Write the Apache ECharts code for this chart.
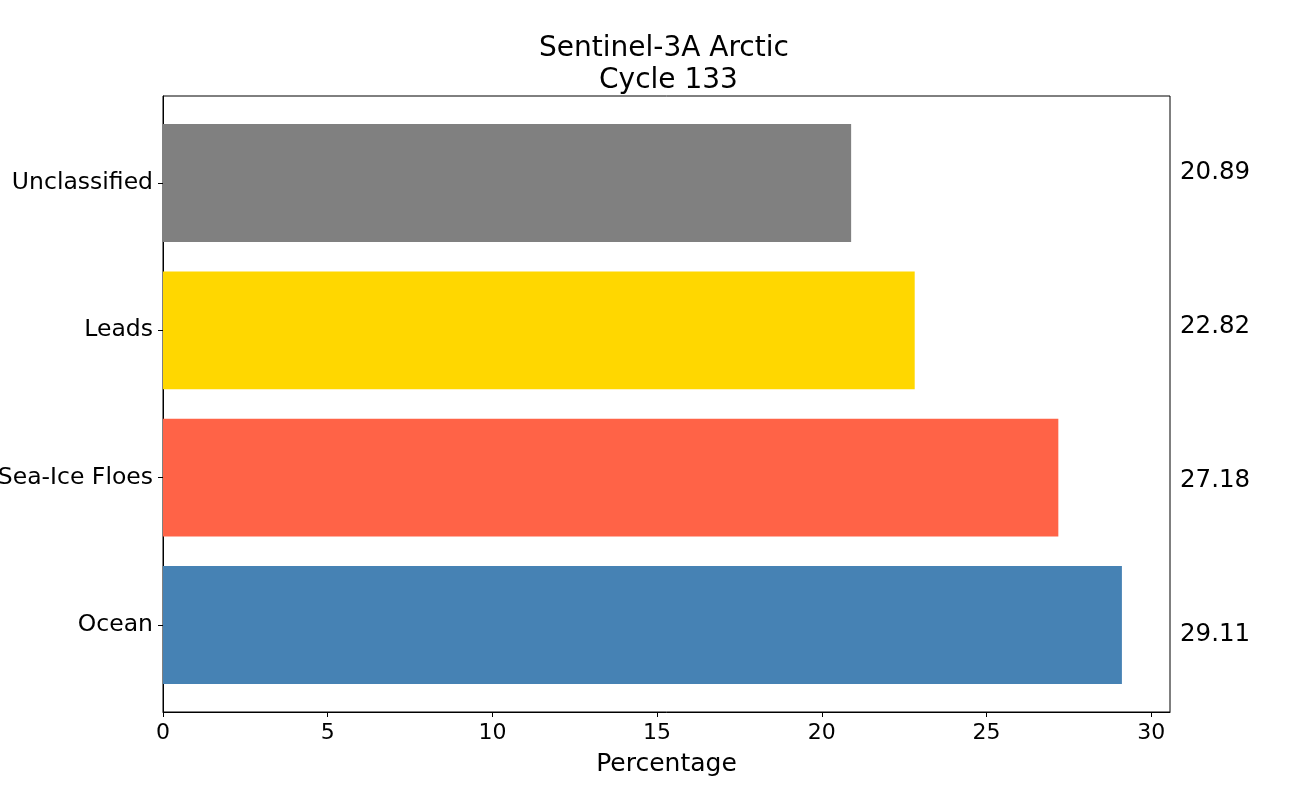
<!DOCTYPE html>
<html>
<head>
<meta charset="utf-8">
<title>Sentinel-3A Arctic</title>
<script src="https://cdn.jsdelivr.net/npm/echarts@6/dist/echarts.min.js"></script>
<style>
    html, body { margin: 0; padding: 0; background: #fff; }
    #main { width: 1300px; height: 800px; }
</style>
</head>
<body>
<div id="main"></div>
<script>
    // 数据 (bottom to top)
    var categories = ['Ocean', 'Sea-Ice Floes', 'Leads', 'Unclassified'];
    var values = [29.11, 27.18, 22.82, 20.89];
    var colors = ['#4682B4', '#FF6347', '#FFD700', '#808080'];
    var xTicks = [0, 5, 10, 15, 20, 25, 30];

    var font = 'DejaVu Sans';
    var xMax = 30.57;

    var myChart = echarts.init(document.getElementById('main'));

    var barData = [];
    for (var i = 0; i < values.length; i++) {
        barData.push({ value: values[i], itemStyle: { color: colors[i] } });
    }
    var rightLabels = values.map(function (v) { return v.toFixed(2); });

    var option = {
        animation: false,
        title: {
            text: 'Sentinel-3A Arctic\n Cycle 133',
            left: 659,
            top: 28,
            textAlign: 'center',
            textStyle: { fontFamily: font, fontSize: 28, fontWeight: 'normal', color: '#000', lineHeight: 32 }
        },
        grid: [
            // frame + x axis + right labels
            { left: 163, right: 130, top: 96, bottom: 88, outerBoundsMode: 'none', show: true, borderColor: '#000', borderWidth: 1 },
            // bars, with matplotlib style margins
            { left: 163, right: 130, top: 109.3, bottom: 101.3, outerBoundsMode: 'none' }
        ],
        xAxis: [
            {
                gridIndex: 0,
                type: 'value',
                min: 0,
                max: xMax,
                interval: 5,
                axisLine: { show: true, lineStyle: { color: '#000', width: 1 } },
                axisTick: { show: true, length: 5, lineStyle: { color: '#000' } },
                axisLabel: {
                    fontFamily: font, fontSize: 22, color: '#000', margin: 10,
                    showMaxLabel: false,
                    formatter: function (v) { return xTicks.indexOf(v) >= 0 ? String(v) : ''; }
                },
                splitLine: { show: false },
                name: 'Percentage',
                nameLocation: 'middle',
                nameGap: 40,
                nameTextStyle: { fontFamily: font, fontSize: 25, color: '#000' }
            },
            {
                gridIndex: 1,
                type: 'value',
                min: 0,
                max: xMax,
                show: false
            }
        ],
        yAxis: [
            {
                gridIndex: 0,
                type: 'category',
                position: 'right',
                data: rightLabels,
                axisLine: { show: true, lineStyle: { color: '#000', width: 1 } },
                axisTick: { show: true, alignWithLabel: true, length: 5, lineStyle: { color: '#000' } },
                axisLabel: { fontFamily: font, fontSize: 24.5, color: '#000', margin: 10, padding: [8, 0, 0, 0] },
                splitLine: { show: false }
            },
            {
                gridIndex: 1,
                type: 'category',
                position: 'left',
                data: categories,
                axisLine: { show: false },
                axisTick: { show: true, alignWithLabel: true, length: 5, lineStyle: { color: '#000' } },
                axisLabel: { fontFamily: font, fontSize: 23.5, color: '#000', margin: 10, padding: [4, 0, 0, 0] },
                splitLine: { show: false }
            }
        ],
        series: [
            {
                name: 'Percentage',
                type: 'bar',
                xAxisIndex: 1,
                yAxisIndex: 1,
                barCategoryGap: '20%',
                data: barData
            }
        ]
    };
    myChart.setOption(option);
</script>
</body>
</html>
